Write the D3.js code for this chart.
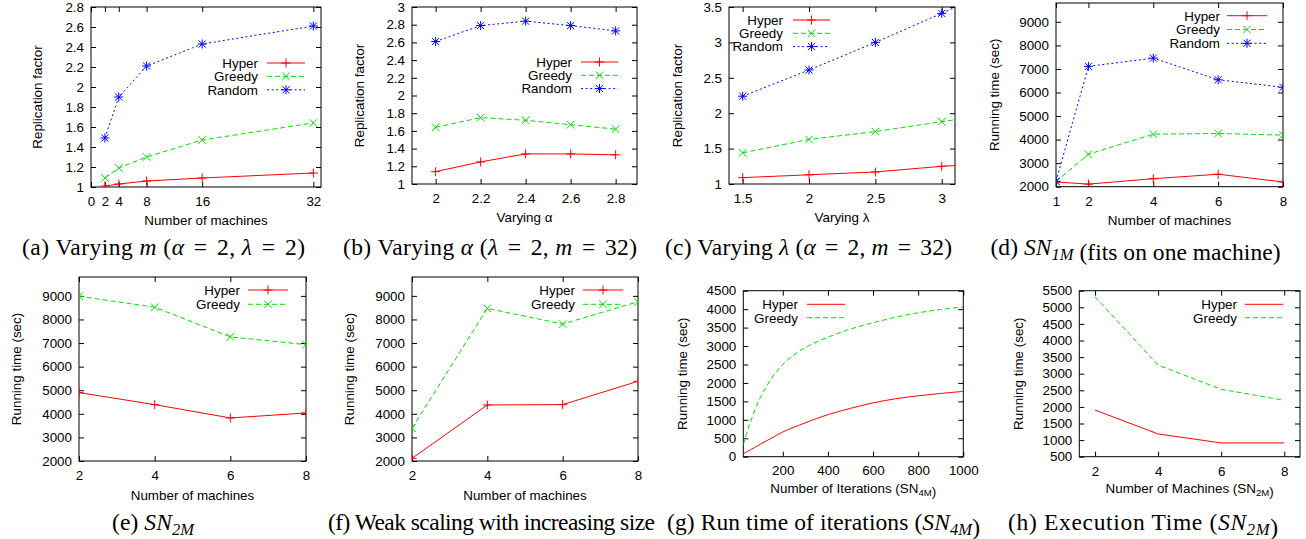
<!DOCTYPE html>
<html><head><meta charset="utf-8">
<script src="https://cdn.jsdelivr.net/npm/d3@7"></script>
<style>body{margin:0;background:#fff} svg{display:block}</style>
</head><body>
<svg id="chart" width="1306" height="539"></svg>
<script>
// ---------------- DATA ----------------
const seriesNames = ["Hyper", "Greedy", "Random"];

// (a) varying m
const machinesA = [2, 4, 8, 16, 32];
const hyperA  = [1.01, 1.03, 1.06, 1.09, 1.14];
const greedyA = [1.09, 1.19, 1.30, 1.47, 1.64];
const randomA = [1.49, 1.90, 2.21, 2.43, 2.61];
const xTicksA = [0, 2, 4, 8, 16, 32];
const yTicksA = [1, 1.2, 1.4, 1.6, 1.8, 2, 2.2, 2.4, 2.6, 2.8];

// (b) varying alpha
const alphaB  = [2, 2.2, 2.4, 2.6, 2.8];
const hyperB  = [1.14, 1.25, 1.34, 1.34, 1.33];
const greedyB = [1.64, 1.75, 1.72, 1.67, 1.62];
const randomB = [2.61, 2.79, 2.84, 2.79, 2.73];
const xTicksB = [2, 2.2, 2.4, 2.6, 2.8];
const yTicksB = [1, 1.2, 1.4, 1.6, 1.8, 2, 2.2, 2.4, 2.6, 2.8, 3];

// (c) varying lambda (last point lies beyond the visible range)
const lambdaC = [1.5, 2, 2.5, 3, 3.5];
const hyperC  = [1.09, 1.13, 1.17, 1.25, 1.30];
const greedyC = [1.44, 1.63, 1.74, 1.88, 2.02];
const randomC = [2.24, 2.61, 3.00, 3.41, 3.84];
const xTicksC = [1.5, 2, 2.5, 3];
const yTicksC = [1, 1.5, 2, 2.5, 3, 3.5];

// (d) SN1M
const machinesD = [1, 2, 4, 6, 8];
const hyperD  = [2200, 2110, 2340, 2530, 2200];
const greedyD = [2220, 3380, 4230, 4260, 4190];
const randomD = [2230, 7110, 7460, 6540, 6220];
const xTicksD = [1, 2, 4, 6, 8];
const yTicksRun = [2000, 3000, 4000, 5000, 6000, 7000, 8000, 9000];

// (e) SN2M
const machinesE = [2, 4, 6, 8];
const hyperE  = [4900, 4390, 3825, 4035];
const greedyE = [8985, 8520, 7260, 6935];
const xTicksE = [2, 4, 6, 8];

// (f) weak scaling
const machinesF = [2, 4, 6, 8];
const hyperF  = [2110, 4375, 4390, 5380];
const greedyF = [3390, 8470, 7805, 8750];

// (g) iterations SN4M
const itersG  = [25, 50, 100, 150, 200, 250, 300, 400, 500, 600, 700, 800, 900, 1000];
const hyperG  = [80, 165, 335, 505, 670, 800, 920, 1140, 1310, 1460, 1570, 1650, 1715, 1770];
const greedyG = [330, 820, 1600, 2120, 2500, 2760, 2960, 3240, 3460, 3630, 3780, 3900, 3990, 4060];
const xTicksG = [200, 400, 600, 800, 1000];
const yTicksG = [0, 500, 1000, 1500, 2000, 2500, 3000, 3500, 4000, 4500];

// (h) execution time SN2M
const machinesH = [2, 4, 6, 8];
const hyperH  = [1905, 1185, 915, 915];
const greedyH = [5315, 3260, 2530, 2200];
const yTicksH = [500, 1000, 1500, 2000, 2500, 3000, 3500, 4000, 4500, 5000, 5500];

// ---------------- STYLE ----------------
const SANS = '"Liberation Sans", Arial, Helvetica, sans-serif';
const SERIF = '"Liberation Serif", "Times New Roman", Times, serif';
const FS = 13.4;
const CAPFS = 23.5;
const COLOR = {Hyper: "#ff0000", Greedy: "#00e000", Random: "#0000ff"};
const DASH = {Hyper: null, Greedy: "5,3", Random: "2,2.6"};

const svg = d3.select("#chart");
const fmt = v => String(+v.toFixed(2));

function marker(g, type, x, y) {
  const p = d3.path();
  const s = 4.5, d = 3.6;
  if (type === "Hyper" || type === "Random") {
    p.moveTo(x - s, y); p.lineTo(x + s, y);
    p.moveTo(x, y - s); p.lineTo(x, y + s);
  }
  if (type === "Greedy" || type === "Random") {
    const k = type === "Greedy" ? 3.8 : d;
    p.moveTo(x - k, y - k); p.lineTo(x + k, y + k);
    p.moveTo(x - k, y + k); p.lineTo(x + k, y - k);
  }
  g.append("path").attr("d", p.toString()).attr("fill", "none")
    .attr("stroke", COLOR[type]).attr("stroke-width", 1);
}

function panel(cfg, idx) {
  const {L, R, T, B} = cfg;
  const x = d3.scaleLinear().domain(cfg.xDomain).range([L, R]);
  const y = d3.scaleLinear().domain(cfg.yDomain).range([B, T]);
  const g = svg.append("g");
  const clipId = "clip" + idx;
  svg.append("clipPath").attr("id", clipId).append("rect")
    .attr("x", L).attr("y", T).attr("width", R - L).attr("height", B - T);

  const xtPad = cfg.xtickY - B - 0.36 * FS;
  const axB = g.append("g").attr("transform", `translate(0,${B})`)
    .call(d3.axisBottom(x).tickValues(cfg.xTicks).tickSize(-5).tickPadding(xtPad).tickFormat(fmt));
  const axT = g.append("g").attr("transform", `translate(0,${T})`)
    .call(d3.axisTop(x).tickValues(cfg.xTicks).tickSize(-5).tickFormat(""));
  const axL = g.append("g").attr("transform", `translate(${L},0)`)
    .call(d3.axisLeft(y).tickValues(cfg.yTicks).tickSize(-5).tickPadding(7).tickFormat(fmt));
  const axR = g.append("g").attr("transform", `translate(${R},0)`)
    .call(d3.axisRight(y).tickValues(cfg.yTicks).tickSize(-5).tickFormat(""));
  [axB, axT, axL, axR].forEach(a => {
    a.select(".domain").remove();
    a.attr("font-family", SANS).attr("font-size", FS);
    a.selectAll("line").attr("stroke", "#000");
    a.selectAll("text").attr("fill", "#000");
  });

  g.append("rect").attr("x", L).attr("y", T).attr("width", R - L).attr("height", B - T)
    .attr("fill", "none").attr("stroke", "#000").attr("stroke-width", 1);

  // axis titles
  const xl = g.append("text").attr("x", (L + R) / 2).attr("y", cfg.xlabelY).attr("dy", "0.36em")
    .attr("text-anchor", "middle").attr("font-family", SANS).attr("font-size", FS);
  cfg.xlabel.forEach(([t, sub]) => {
    if (sub) {
      xl.append("tspan").attr("dy", 3.5).attr("font-size", FS * 0.72).text(t);
      xl.append("tspan").attr("dy", -3.5).text("");
    } else xl.append("tspan").text(t);
  });
  g.append("text").attr("transform", `translate(${cfg.ylabelX},${(T + B) / 2}) rotate(-90)`)
    .attr("dy", "0.36em").attr("text-anchor", "middle")
    .attr("font-family", SANS).attr("font-size", FS).text(cfg.ylabel);

  // series
  const plot = g.append("g").attr("clip-path", `url(#${clipId})`);
  const line = d3.line().x(d => x(d[0])).y(d => y(d[1]));
  if (cfg.smooth) line.curve(d3.curveCatmullRom.alpha(0.5));
  cfg.series.forEach((vals, i) => {
    const name = seriesNames[i];
    const pts = cfg.xs.map((xv, j) => [xv, vals[j]]);
    plot.append("path").attr("d", line(pts)).attr("fill", "none")
      .attr("stroke", COLOR[name]).attr("stroke-width", 1)
      .attr("stroke-dasharray", DASH[name]);
    if (cfg.markers) pts.forEach(p => marker(plot, name, x(p[0]), y(p[1])));
  });

  // legend
  const lg = cfg.legend;
  cfg.series.forEach((vals, i) => {
    const name = seriesNames[i];
    const yy = lg.y + i * lg.dy;
    g.append("text").attr("x", lg.tx).attr("y", yy).attr("dy", "0.36em")
      .attr("text-anchor", "end").attr("font-family", SANS).attr("font-size", FS).text(name);
    g.append("line").attr("x1", lg.x1).attr("x2", lg.x2).attr("y1", yy).attr("y2", yy)
      .attr("stroke", COLOR[name]).attr("stroke-width", 1).attr("stroke-dasharray", DASH[name]);
    if (cfg.markers) marker(g, name, (lg.x1 + lg.x2) / 2, yy);
  });

  // caption
  const cap = svg.append("text").attr("x", cfg.capX - cfg.capW / 2).attr("y", cfg.capY)
    .attr("text-anchor", "start").attr("font-family", SERIF).attr("font-size", CAPFS)
    .attr("textLength", cfg.capW).attr("lengthAdjust", "spacing");
  cfg.caption.forEach(([t, st]) => {
    const ts = cap.append("tspan").text(t);
    if (st === "i") ts.attr("font-style", "italic");
    if (st === "eq") ts.attr("dx", 3);
    if (st === "isub") {
      ts.attr("font-style", "italic").attr("font-size", 16.5).attr("dy", 5);
      cap.append("tspan").attr("dy", -5).text("");
    }
  });
}

const panels = [
  {L: 91, R: 321, T: 7, B: 187, xDomain: [0, 33.1], yDomain: [1, 2.8],
   xTicks: xTicksA, yTicks: yTicksA, xs: machinesA, series: [hyperA, greedyA, randomA],
   markers: true, xtickY: 201, xlabelY: 220, xlabel: [["Number of machines"]],
   ylabelX: 37, ylabel: "Replication factor",
   legend: {tx: 258, x1: 267, x2: 305, y: 63, dy: 13.4},
   capX: 163.5, capY: 255, capW: 283,
   caption: [["(a) Varying "], ["m", "i"], [" ("], ["α", "i"], [" =", "eq"], [" 2,", "eq"], [" "], ["λ", "i"], [" =", "eq"], [" 2)", "eq"]]},
  {L: 412, R: 637, T: 7, B: 184, xDomain: [1.895, 2.895], yDomain: [1, 3],
   xTicks: xTicksB, yTicks: yTicksB, xs: alphaB, series: [hyperB, greedyB, randomB],
   markers: true, xtickY: 198, xlabelY: 217, xlabel: [["Varying α"]],
   ylabelX: 359, ylabel: "Replication factor",
   legend: {tx: 572, x1: 581, x2: 618, y: 62, dy: 13.3},
   capX: 490, capY: 255, capW: 294,
   caption: [["(b) Varying "], ["α", "i"], [" ("], ["λ", "i"], [" =", "eq"], [" 2,", "eq"], [" "], ["m", "i"], [" =", "eq"], [" 32)", "eq"]]},
  {L: 729, R: 955, T: 7, B: 184, xDomain: [1.397, 3.1], yDomain: [1, 3.5],
   xTicks: xTicksC, yTicks: yTicksC, xs: lambdaC, series: [hyperC, greedyC, randomC],
   markers: true, xtickY: 198, xlabelY: 217, xlabel: [["Varying λ"]],
   ylabelX: 677.5, ylabel: "Replication factor",
   legend: {tx: 783, x1: 793, x2: 830, y: 20, dy: 13.3},
   capX: 808.5, capY: 255, capW: 287,
   caption: [["(c) Varying "], ["λ", "i"], [" ("], ["α", "i"], [" =", "eq"], [" 2,", "eq"], [" "], ["m", "i"], [" =", "eq"], [" 32)", "eq"]]},
  {L: 1056, R: 1283, T: 3, B: 186.7, xDomain: [1, 8], yDomain: [2000, 9800],
   xTicks: xTicksD, yTicks: yTicksRun, xs: machinesD, series: [hyperD, greedyD, randomD],
   markers: true, xtickY: 201.5, xlabelY: 220, xlabel: [["Number of machines"]],
   ylabelX: 994, ylabel: "Running time (sec)",
   legend: {tx: 1220, x1: 1227, x2: 1267, y: 15.7, dy: 13.8},
   capX: 1135.5, capY: 255, capW: 290,
   caption: [["(d) "], ["SN", "i"], ["1M", "isub"], [" (fits on one machine)"]]},
  {L: 79, R: 306, T: 277, B: 461, xDomain: [2, 8], yDomain: [2000, 9800],
   xTicks: xTicksE, yTicks: yTicksRun, xs: machinesE, series: [hyperE, greedyE],
   markers: true, xtickY: 475, xlabelY: 495, xlabel: [["Number of machines"]],
   ylabelX: 16, ylabel: "Running time (sec)",
   legend: {tx: 240, x1: 248, x2: 288, y: 290, dy: 14.3},
   capX: 153, capY: 530, capW: 82,
   caption: [["(e) "], ["SN", "i"], ["2M", "isub"]]},
  {L: 412, R: 638, T: 277, B: 461, xDomain: [2, 8], yDomain: [2000, 9800],
   xTicks: xTicksE, yTicks: yTicksRun, xs: machinesF, series: [hyperF, greedyF],
   markers: true, xtickY: 475, xlabelY: 495, xlabel: [["Number of machines"]],
   ylabelX: 349, ylabel: "Running time (sec)",
   legend: {tx: 575, x1: 583, x2: 623, y: 290, dy: 14.3},
   capX: 491.5, capY: 530, capW: 327,
   caption: [["(f) Weak scaling with increasing size"]]},
  {L: 743.3, R: 963.3, T: 290.7, B: 456.7, xDomain: [25, 1000], yDomain: [0, 4500],
   xTicks: xTicksG, yTicks: yTicksG, xs: itersG, series: [hyperG, greedyG],
   markers: false, smooth: true, xtickY: 470, xlabelY: 488,
   xlabel: [["Number of Iterations (SN"], ["4M", true], [")"]],
   ylabelX: 682.5, ylabel: "Running time (sec)",
   legend: {tx: 798, x1: 807, x2: 845, y: 304.3, dy: 13.4},
   capX: 823.5, capY: 530, capW: 313,
   caption: [["(g) Run time of iterations ("], ["SN", "i"], ["4M", "isub"], [")"]]},
  {L: 1079.3, R: 1300, T: 290.7, B: 456.7, xDomain: [1.5, 8.5], yDomain: [500, 5500],
   xTicks: xTicksE, yTicks: yTicksH, xs: machinesH, series: [hyperH, greedyH],
   markers: false, xtickY: 471, xlabelY: 488,
   xlabel: [["Number of Machines (SN"], ["2M", true], [")"]],
   ylabelX: 1018.5, ylabel: "Running time (sec)",
   legend: {tx: 1237, x1: 1245, x2: 1283, y: 304.3, dy: 13.4},
   capX: 1143, capY: 530, capW: 270,
   caption: [["(h) Execution Time ("], ["SN", "i"], ["2M", "isub"], [")"]]}
];

panels.forEach(panel);
</script>
</body></html>
